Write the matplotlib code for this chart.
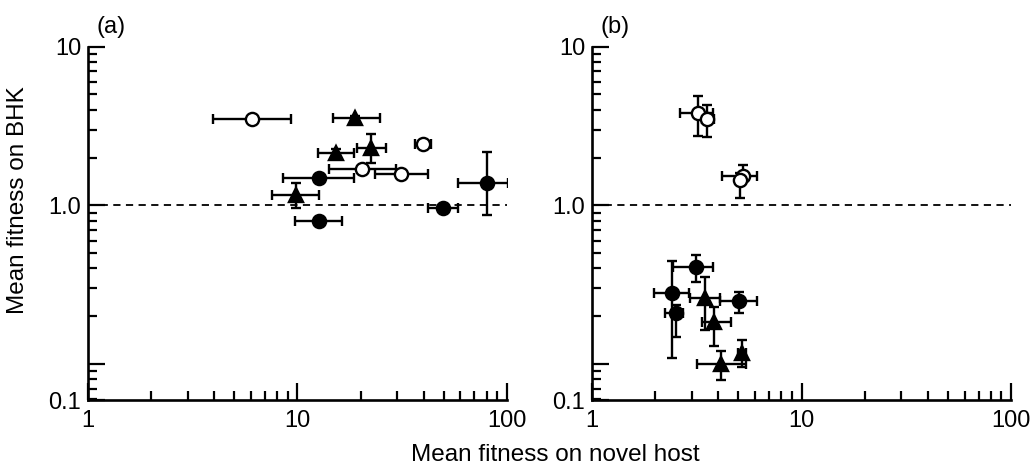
import matplotlib
matplotlib.use('Agg')
import matplotlib.pyplot as plt
import numpy as np
from matplotlib.ticker import LogLocator, NullFormatter, FixedLocator

plt.rcParams['font.family'] = ['Liberation Sans', 'DejaVu Sans']

# panel (a) - open circles
a_open_x = [6.04, 39.6, 20.3, 31.2]
a_open_xlo = [3.94, 36.4, 14.1, 23.4]
a_open_xhi = [9.31, 43.2, 29.5, 41.8]
a_open_y = [3.49, 2.43, 1.69, 1.57]
a_open_ylo = [3.40, 2.30, 1.64, 1.52]
a_open_yhi = [3.58, 2.55, 1.74, 1.62]
# panel (a) - filled triangles
a_tri_x = [18.9, 15.2, 22.4, 9.84]
a_tri_xlo = [14.7, 12.6, 19.2, 7.58]
a_tri_xhi = [24.9, 18.6, 26.4, 12.7]
a_tri_y = [3.54, 2.15, 2.29, 1.16]
a_tri_ylo = [3.42, 2.05, 1.85, 0.96]
a_tri_yhi = [3.66, 2.25, 2.82, 1.38]
# panel (a) - filled circles
a_fill_x = [12.7, 12.7, 49.3, 80.0]
a_fill_xlo = [8.55, 9.77, 42.1, 58.2]
a_fill_xhi = [18.6, 16.4, 58.6, 100.7]
a_fill_y = [1.48, 0.798, 0.96, 1.38]
a_fill_ylo = [1.42, 0.78, 0.93, 0.867]
a_fill_yhi = [1.54, 0.82, 0.99, 2.18]

# panel (b) - open circles
b_open_x = [3.19, 3.55, 5.28, 5.09]
b_open_xlo = [2.63, 3.34, 4.16, 4.90]
b_open_xhi = [3.80, 3.82, 6.11, 5.30]
b_open_y = [3.84, 3.49, 1.54, 1.45]
b_open_ylo = [2.75, 2.71, 1.45, 1.11]
b_open_yhi = [4.92, 4.30, 1.80, 1.60]
# panel (b) - filled triangles
b_tri_x = [3.46, 3.82, 4.11, 5.22]
b_tri_xlo = [2.94, 3.34, 3.18, 4.99]
b_tri_xhi = [4.08, 4.62, 5.43, 5.45]
b_tri_y = [0.260, 0.183, 0.100, 0.118]
b_tri_ylo = [0.164, 0.129, 0.0795, 0.0956]
b_tri_yhi = [0.356, 0.230, 0.120, 0.141]
# panel (b) - filled circles
b_fill_x = [3.14, 2.40, 2.52, 5.05]
b_fill_xlo = [2.44, 1.98, 2.24, 4.08]
b_fill_xhi = [3.80, 2.91, 2.71, 6.11]
b_fill_y = [0.408, 0.280, 0.209, 0.248]
b_fill_ylo = [0.328, 0.109, 0.148, 0.211]
b_fill_yhi = [0.488, 0.447, 0.236, 0.286]

ybot = 0.0593  # bottom of the drawn axis (labelled 0.1 in the original)


def draw(ax, x, xlo, xhi, y, ylo, yhi, marker, face):
    x = np.array(x); y = np.array(y)
    xerr = [x - np.array(xlo), np.array(xhi) - x]
    yerr = [y - np.array(ylo), np.array(yhi) - y]
    ax.errorbar(x, y, xerr=xerr, yerr=yerr, fmt=marker, ms=10 if marker == '^' else 9.5,
                mfc=face, mec='black', mew=1.7, ecolor='black', elinewidth=1.7,
                capsize=3.4, capthick=1.7, zorder=3)


fig = plt.figure(figsize=(10.35, 4.66), dpi=100)
ax_a = fig.add_axes([0.0850, 0.1416, 0.4048, 0.7582])
ax_b = fig.add_axes([0.5720, 0.1416, 0.4048, 0.7582])

draw(ax_a, a_open_x, a_open_xlo, a_open_xhi, a_open_y, a_open_ylo, a_open_yhi, 'o', 'white')
draw(ax_a, a_tri_x, a_tri_xlo, a_tri_xhi, a_tri_y, a_tri_ylo, a_tri_yhi, '^', 'black')
draw(ax_a, a_fill_x, a_fill_xlo, a_fill_xhi, a_fill_y, a_fill_ylo, a_fill_yhi, 'o', 'black')
draw(ax_b, b_open_x, b_open_xlo, b_open_xhi, b_open_y, b_open_ylo, b_open_yhi, 'o', 'white')
draw(ax_b, b_tri_x, b_tri_xlo, b_tri_xhi, b_tri_y, b_tri_ylo, b_tri_yhi, '^', 'black')
draw(ax_b, b_fill_x, b_fill_xlo, b_fill_xhi, b_fill_y, b_fill_ylo, b_fill_yhi, 'o', 'black')

for ax, lab in [(ax_a, '(a)'), (ax_b, '(b)')]:
    ax.set_xscale('log')
    ax.set_yscale('log')
    ax.set_xlim(1, 100)
    ax.set_ylim(ybot, 10)
    ax.axhline(1.0, color='black', lw=1.3, ls=(0, (4, 3)), zorder=1)
    ax.spines['top'].set_visible(False)
    ax.spines['right'].set_visible(False)
    ax.spines['left'].set_linewidth(1.9)
    ax.spines['bottom'].set_linewidth(1.9)
    ax.xaxis.set_major_locator(FixedLocator([1, 10, 100]))
    ax.set_xticklabels(['1', '10', '100'])
    ax.xaxis.set_minor_locator(LogLocator(base=10, subs=np.arange(2, 10)))
    ax.xaxis.set_minor_formatter(NullFormatter())
    ax.yaxis.set_major_locator(FixedLocator([ybot, 0.1, 1, 10]))
    ax.set_yticklabels(['0.1', '', '1.0', '10'])
    ax.yaxis.set_minor_locator(LogLocator(base=10, subs=np.arange(2, 10)))
    ax.yaxis.set_minor_formatter(NullFormatter())
    ax.tick_params(which='major', direction='in', length=12.5, width=1.6, labelsize=17)
    ax.tick_params(which='minor', direction='in', length=6.5, width=1.6)
    ax.tick_params(axis='x', which='major', pad=7)
    ax.tick_params(axis='y', which='major', pad=5)
    ax.text(0.021, 1.057, lab, transform=ax.transAxes, fontsize=17,
            ha='left', va='center')

fig.text(0.537, 0.024, 'Mean fitness on novel host', fontsize=17.5, ha='center', va='center')
fig.text(0.017, 0.571, 'Mean fitness on BHK', fontsize=17.5, ha='center', va='center',
         rotation=90)

fig.savefig('out.png', dpi=100)
